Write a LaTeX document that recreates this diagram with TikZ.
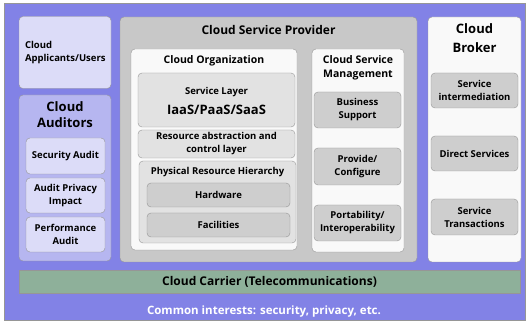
\documentclass[tikz,border=0pt]{standalone}
\usepackage{fontspec}
\setmainfont{Open Sans}
\usepackage{tikz}
\usetikzlibrary{positioning}
\definecolor{cpurple}{RGB}{130,130,230}
\definecolor{clavender}{RGB}{220,220,248}
\definecolor{cauditor}{RGB}{182,182,240}
\definecolor{cprov}{RGB}{200,200,200}
\definecolor{cpaper}{RGB}{249,249,249}
\definecolor{clight}{RGB}{226,226,226}
\definecolor{cmid}{RGB}{206,206,206}
\definecolor{cgreen}{RGB}{142,176,154}
\definecolor{cedge}{RGB}{150,150,150}

\begin{document}
\begin{tikzpicture}[
    x=1pt, y=-1pt,
    every node/.style={inner sep=0pt, outer sep=0pt, font=\bfseries, align=center},
    frame/.style ={draw=cedge, rounded corners=4pt},
    lav/.style   ={frame, fill=clavender, font=\bfseries\fontsize{9.5}{13}\selectfont},
    aud/.style   ={frame, fill=cauditor},
    prov/.style  ={frame, fill=cprov},
    paper/.style ={frame, fill=cpaper},
    lcell/.style ={frame, fill=clight, font=\bfseries\fontsize{9.5}{13}\selectfont},
    mcell/.style ={frame, fill=cmid, font=\bfseries\fontsize{9.5}{13}\selectfont},
    title/.style ={font=\bfseries\fontsize{12}{15}\selectfont},
    subtitle/.style={font=\bfseries\fontsize{10.5}{14}\selectfont},
  ]
  \useasboundingbox (0,0) rectangle (528,323);
  % background
  \node[draw=cedge, fill=cpurple, minimum width=521pt, minimum height=317pt] (bg) at (264.5,161.5) {};

  % users and auditors
  \node[lav, minimum width=92pt, minimum height=72pt, align=left, text width=80pt] (users) at (65,52.5)
    {Cloud\\Applicants/Users};
  \node[aud, minimum width=92pt, minimum height=166pt] (auditors) at (65,178) {};
  \node[title, font=\bfseries\fontsize{13}{15.5}\selectfont] (auditorstitle) at (65,114.5) {Cloud\\Auditors};
  \node[lav, minimum width=79pt, minimum height=36pt] (secaudit) at (65.5,156) {Security Audit};
  \node[lav, minimum width=79pt, minimum height=35pt] (privaudit) at (65.5,195.5) {Audit Privacy\\Impact};
  \node[lav, minimum width=79pt, minimum height=35pt] (perfaudit) at (65.5,234.5) {Performance\\Audit};

  % provider
  \node[prov, minimum width=297pt, minimum height=245pt] (provider) at (268.5,139.5) {};
  \node[title] (providertitle) at (268.5,30) {Cloud Service Provider};

  \node[paper, minimum width=166pt, minimum height=201pt] (org) at (214,149.5) {};
  \node[subtitle] (orgtitle) at (214,60.5) {Cloud Organization};
  \node[lcell, minimum width=157pt, minimum height=54pt] (servlayer) at (216.5,100) {};
  \node[font=\bfseries\fontsize{9.5}{11}\selectfont] (servname) at (216.5,92) {Service Layer};
  \node[font=\bfseries\fontsize{13}{15}\selectfont] (servkinds) at (216.5,110) {IaaS/PaaS/SaaS};
  \node[lcell, minimum width=157pt, minimum height=28pt] (resabs) at (216.5,144)
    {Resource abstraction and\\control layer};
  \node[lcell, minimum width=157pt, minimum height=82pt] (physical) at (217.5,202) {};
  \node[font=\bfseries\fontsize{9.5}{11}\selectfont] (physicaltitle) at (217.5,172) {Physical Resource Hierarchy};
  \node[mcell, minimum width=143pt, minimum height=24pt] (hardware) at (218.5,195) {Hardware};
  \node[mcell, minimum width=143pt, minimum height=24pt] (facilities) at (218.5,225) {Facilities};

  \node[paper, minimum width=92pt, minimum height=203pt] (mgmt) at (358,150.5) {};
  \node[subtitle, font=\bfseries\fontsize{10.5}{14}\selectfont] (mgmttitle) at (358,68) {Cloud Service\\Management};
  \node[mcell, minimum width=87pt, minimum height=36pt] (business) at (357.5,110) {Business\\Support};
  \node[mcell, minimum width=87pt, minimum height=37pt] (provide) at (357.5,166.5) {Provide/\\Configure};
  \node[mcell, minimum width=87pt, minimum height=36pt] (portab) at (357.5,223) {Portability/\\Interoperability};

  % broker
  \node[paper, minimum width=93pt, minimum height=245pt] (broker) at (474.5,139.5) {};
  \node[title, font=\bfseries\fontsize{13}{19}\selectfont] (brokertitle) at (474.5,38.5) {Cloud\\Broker};
  \node[mcell, minimum width=87pt, minimum height=35pt] (intermed) at (474.5,90.5) {Service\\intermediation};
  \node[mcell, minimum width=87pt, minimum height=35pt] (direct) at (474.5,153.5) {Direct Services};
  \node[mcell, minimum width=87pt, minimum height=36pt] (transact) at (474.5,217) {Service\\Transactions};

  % carrier and common interests
  \node[draw=cedge, fill=cgreen, minimum width=501pt, minimum height=23pt, font=\bfseries\fontsize{12}{14}\selectfont]
    (carrier) at (269.5,281.5) {Cloud Carrier (Telecommunications)};
  \node[text=white, font=\bfseries\fontsize{11.5}{14}\selectfont] (common) at (264,312)
    {Common interests: security, privacy, etc.};
\end{tikzpicture}
\end{document}
